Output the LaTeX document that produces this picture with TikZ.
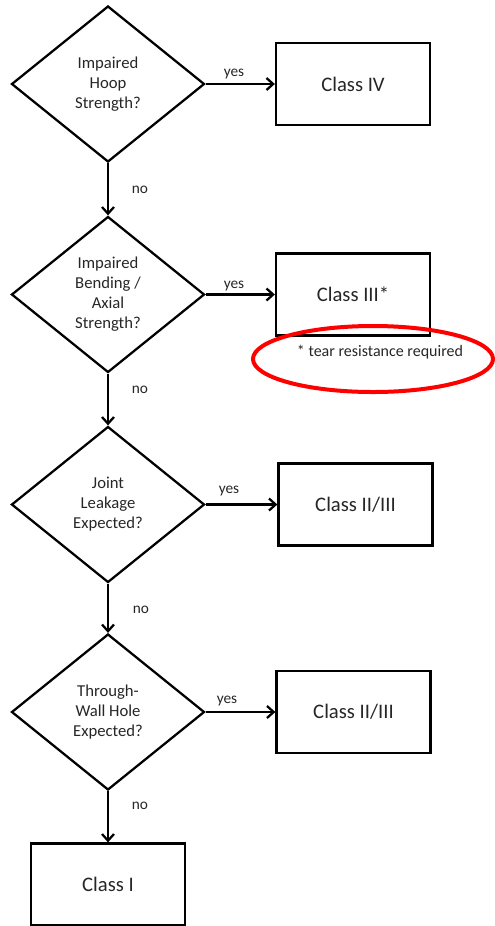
\documentclass[tikz,border=0pt]{standalone}
\usepackage{fontspec}
\setmainfont{Carlito}
\usetikzlibrary{shapes.geometric, arrows.meta}

\begin{document}
\begin{tikzpicture}[x=.75pt, y=-.75pt,
	decision/.style={draw, diamond, line width=1.7pt, minimum width=144.75pt, minimum height=117pt, inner sep=0, align=center, text=black!85, font=\fontsize{12.5}{15}\selectfont},
	classbox/.style={draw, rectangle, line width=1.7pt, minimum width=115.5pt, minimum height=61.5pt, text=black!85, font=\fontsize{15.5}{18}\selectfont},
	answer/.style={text=black!85, font=\fontsize{11.5}{14}\selectfont},
	flow/.style={-{Straight Barb[length=5pt, width=9pt]}, line width=1.7pt}
	]
	\useasboundingbox (0,0) rectangle (495,926);
	
	\node (hoop) at (108,84) [decision] {Impaired\\Hoop\\Strength?};
	\node (classiv) at (353,84) [classbox] {Class IV};
	\node (yeshoop) at (234,74) [answer] {yes};
	\node (nohoop) at (140,190) [answer] {no};
	
	\node (bend) at (108,294.5) [decision] {Impaired\\Bending /\\Axial\\Strength?};
	\node (classiii) at (353,294.5) [classbox] {Class III*};
	\node (yesbend) at (234,286) [answer] {yes};
	\node (nobend) at (140,390) [answer] {no};
	\node (tear) at (380,352) [text=black!85, font=\fontsize{12}{14}\selectfont] {* tear resistance required};
	\draw [red, line width=3pt] (373,359) ellipse [x radius=120, y radius=33];
	
	\node (joint) at (108,504.5) [decision] {Joint\\Leakage\\Expected?};
	\node (classjoint) at (355.5,504.5) [classbox] {Class II/III};
	\node (yesjoint) at (229,491) [answer] {yes};
	\node (nojoint) at (141,610) [answer] {no};
	
	\node (hole) at (108,712) [decision] {Through-\\Wall Hole\\Expected?};
	\node (classhole) at (353.5,712) [classbox] {Class II/III};
	\node (yeshole) at (227,701) [answer] {yes};
	\node (nohole) at (140,806) [answer] {no};
	
	\node (classi) at (108,884.5) [classbox] {Class I};
	
	\draw [flow] (hoop.east) -- (classiv.west);
	\draw [flow] (hoop.south) -- (bend.north);
	\draw [flow] (bend.east) -- (classiii.west);
	\draw [flow] (bend.south) -- (joint.north);
	\draw [flow] (joint.east) -- (classjoint.west);
	\draw [flow] (joint.south) -- (hole.north);
	\draw [flow] (hole.east) -- (classhole.west);
	\draw [flow] (hole.south) -- (classi.north);
\end{tikzpicture}
\end{document}
